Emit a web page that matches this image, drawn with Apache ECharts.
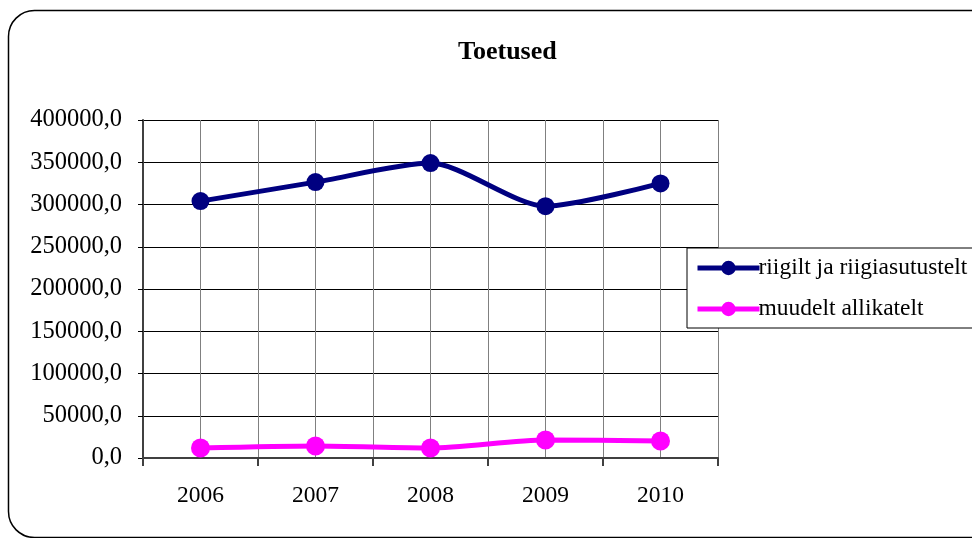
<!DOCTYPE html>
<html>
<head>
<meta charset="utf-8">
<script src="https://cdn.jsdelivr.net/npm/echarts@6/dist/echarts.min.js"></script>
<style>html,body{margin:0;padding:0;background:#fff;}#c{width:972px;height:538px;}</style>
</head>
<body>
<div id="c"></div>
<script>
var categories = ['2006', '2007', '2008', '2009', '2010'];
var halfSteps = ['a','b','c','d','e','f','g','h','i','j'];
var riigilt = [304000, 326500, 349000, 298000, 325000];
var muudelt = [11800, 14200, 11800, 21300, 20100];
var seriesNames = ['riigilt ja riigiasutustelt', 'muudelt allikatelt'];
var titleText = 'Toetused';

var FONT = '"Liberation Serif", "Times New Roman", serif';
var chart = echarts.init(document.getElementById('c'));
chart.setOption({
  backgroundColor: '#fff',
  animation: false,
  graphic: [{
    type: 'rect',
    shape: { x: 8.5, y: 10.5, width: 1000, height: 527, r: 26 },
    style: { fill: 'none', stroke: '#000', lineWidth: 1.5 },
    z: -1
  }],
  title: {
    text: titleText,
    left: 453, top: 34,
    textStyle: { fontFamily: FONT, fontSize: 26, fontWeight: 'bold', color: '#000' }
  },
  legend: {
    orient: 'vertical',
    left: 687, top: 248,
    padding: [8, 40, 7, 8],
    itemGap: 17,
    itemWidth: 62, itemHeight: 18,
    borderColor: '#000', borderWidth: 1,
    backgroundColor: '#fff',
    lineStyle: { width: 5 },
    textStyle: { fontFamily: FONT, fontSize: 23.5, color: '#000', padding: [0,0,0,-6] },
    data: seriesNames
  },
  grid: { left: 143, right: 254, top: 120, bottom: 80, containLabel: false },
  xAxis: [{
    type: 'category',
    data: categories,
    boundaryGap: true,
    axisLine: { show: true, lineStyle: { color: '#404040', width: 2 } },
    axisTick: { show: true, length: 8, lineStyle: { color: '#404040', width: 2 } },
    axisLabel: { fontFamily: FONT, fontSize: 23.5, color: '#000', margin: 26 },
    splitLine: { show: false }
  }, {
    type: 'category',
    data: halfSteps,
    boundaryGap: true,
    position: 'bottom',
    axisLine: { show: false },
    axisTick: { show: false },
    axisLabel: { show: false },
    splitLine: { show: true, lineStyle: { color: '#808080', width: 1 } }
  }],
  yAxis: {
    type: 'value',
    min: 0, max: 400000, interval: 50000,
    axisLine: { show: true, lineStyle: { color: '#404040', width: 2 } },
    axisTick: { show: true, length: 5, lineStyle: { color: '#000' } },
    axisLabel: {
      fontFamily: FONT, fontSize: 24.5, color: '#000', margin: 21,
      formatter: function (v) { return v + ',0'; }
    },
    splitLine: { show: true, lineStyle: { color: '#000', width: 1 } }
  },
  series: [{
    name: seriesNames[0],
    type: 'line',
    data: riigilt,
    smooth: 0.25,
    symbol: 'circle', symbolSize: 18,
    itemStyle: { color: '#000080' },
    lineStyle: { color: '#000080', width: 5 },
    z: 3
  }, {
    name: seriesNames[1],
    type: 'line',
    data: muudelt,
    smooth: 0.25,
    symbol: 'circle', symbolSize: 19,
    itemStyle: { color: '#FF00FF' },
    lineStyle: { color: '#FF00FF', width: 5 },
    z: 3
  }]
});
</script>
</body>
</html>
